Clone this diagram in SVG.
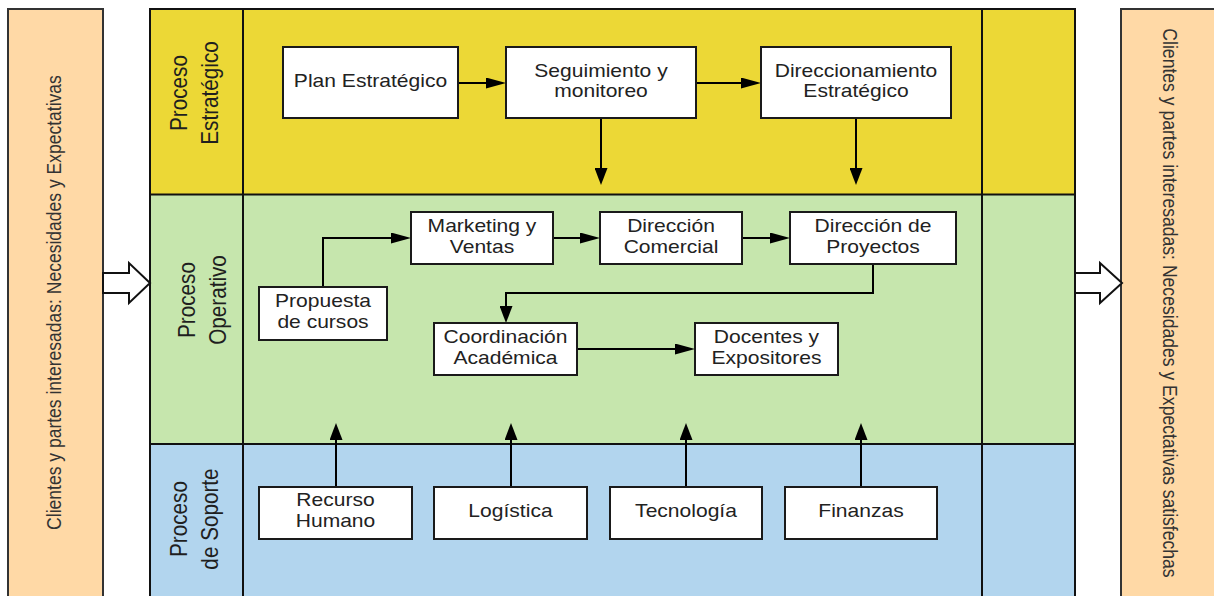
<svg xmlns="http://www.w3.org/2000/svg" width="1214" height="596" viewBox="0 0 1214 596">
<style>
.box{fill:#ffffff;stroke:#1a1a1a;stroke-width:2}
.bt{font-family:"Liberation Sans",Arial,sans-serif;font-size:18px;fill:#222;text-anchor:middle}
.lt{font-family:"Liberation Sans",Arial,sans-serif;font-size:23px;fill:#1f1f1f;text-anchor:middle}
.st{font-family:"Liberation Sans",Arial,sans-serif;font-size:21px;fill:#333;text-anchor:middle}
.ln{fill:none;stroke:#111;stroke-width:2}
.conn{fill:none;stroke:#000;stroke-width:2}
.hollow{fill:#ffffff;stroke:#111;stroke-width:2;stroke-linejoin:miter}
.side{fill:#ffd9a6;stroke:#333;stroke-width:2}
</style>
<defs>
<marker id="ah" markerUnits="userSpaceOnUse" viewBox="0 0 20 11" markerWidth="20" markerHeight="11" refX="0" refY="5.5" orient="auto"><path d="M0,0 L20,5.5 L0,11 Z" fill="#000"/></marker>
<marker id="av" markerUnits="userSpaceOnUse" viewBox="0 0 17 13" markerWidth="17" markerHeight="13" refX="0" refY="6.5" orient="auto"><path d="M0,0 L17,6.5 L0,13 Z" fill="#000"/></marker>
</defs>
<rect width="1214" height="596" fill="#ffffff"/>

<g id="panel-entrada">
<rect class="side" x="8" y="9" width="95" height="600"/>
<text class="st" transform="translate(61 302.5) rotate(-90) scale(0.835 1)" x="0" y="0">Clientes y partes interesadas: Necesidades y Expectativas</text>
</g>
<g id="panel-salida">
<rect class="side" x="1121" y="9" width="100" height="600"/>
<text class="st" transform="translate(1163 303) rotate(90) scale(0.838 1)" x="0" y="0">Clientes y partes interesadas: Necesidades y Expectativas satisfechas</text>
</g>

<g id="lane-estrategico">
<rect x="150" y="9" width="925" height="185.5" fill="#ecd836"/>
<text class="lt" transform="translate(0 93) rotate(-90) scale(0.9 1)"><tspan x="0" y="187">Proceso</tspan><tspan x="0" y="218">Estratégico</tspan></text>
</g>
<g id="lane-operativo">
<rect x="150" y="194.5" width="925" height="249.5" fill="#c6e6ad"/>
<text class="lt" transform="translate(0 300) rotate(-90) scale(0.9 1)"><tspan x="0" y="195">Proceso</tspan><tspan x="0" y="226">Operativo</tspan></text>
</g>
<g id="lane-soporte">
<rect x="150" y="444" width="925" height="160" fill="#b2d5ee"/>
<text class="lt" transform="translate(0 519) rotate(-90) scale(0.9 1)"><tspan x="0" y="187">Proceso</tspan><tspan x="0" y="218">de Soporte</tspan></text>
</g>
<g id="frame">
<path class="ln" d="M150,600 V9 H1075 V600 M150,194.5 H1075 M150,444 H1075 M243,9 V600 M982,9 V600"/>
</g>

<g id="flecha-entrada"><polygon class="hollow" points="103,273 129,273 129,263 150,283 129,303 129,293 103,293"/></g>
<g id="flecha-salida"><polygon class="hollow" points="1075,273 1100,273 1100,263 1122,283 1100,303 1100,293 1075,293"/></g>

<g id="connectors">
<path class="conn" d="M458,83 H486" marker-end="url(#ah)"/>
<path class="conn" d="M696,83 H741" marker-end="url(#ah)"/>
<path class="conn" d="M601,118 V168" marker-end="url(#av)"/>
<path class="conn" d="M856,118 V168" marker-end="url(#av)"/>
<path class="conn" d="M323,287 V238 H391" marker-end="url(#ah)"/>
<path class="conn" d="M553,238 H580" marker-end="url(#ah)"/>
<path class="conn" d="M742,238 H770" marker-end="url(#ah)"/>
<path class="conn" d="M873,264 V293 H506 V306" marker-end="url(#av)"/>
<path class="conn" d="M577,349 H675" marker-end="url(#ah)"/>
<path class="conn" d="M336,487 V440" marker-end="url(#av)"/>
<path class="conn" d="M511,487 V440" marker-end="url(#av)"/>
<path class="conn" d="M686,487 V440" marker-end="url(#av)"/>
<path class="conn" d="M861,487 V440" marker-end="url(#av)"/>
</g>

<g id="plan-estrategico">
<rect class="box" x="283" y="47" width="175" height="71"/>
<text class="bt" transform="matrix(1.17 0 0 1 370.5 0)"><tspan x="0" y="87.5">Plan Estratégico</tspan></text>
</g>
<g id="seguimiento">
<rect class="box" x="506" y="47" width="190" height="71"/>
<text class="bt" transform="matrix(1.17 0 0 1 601 0)"><tspan x="0" y="76.7">Seguimiento y</tspan><tspan x="0" y="97.3">monitoreo</tspan></text>
</g>
<g id="direccionamiento">
<rect class="box" x="761" y="47" width="190" height="71"/>
<text class="bt" transform="matrix(1.17 0 0 1 856 0)"><tspan x="0" y="76.7">Direccionamiento</tspan><tspan x="0" y="97.3">Estratégico</tspan></text>
</g>
<g id="marketing">
<rect class="box" x="411" y="212" width="142" height="52"/>
<text class="bt" transform="matrix(1.17 0 0 1 482 0)"><tspan x="0" y="232.3">Marketing y</tspan><tspan x="0" y="252.7">Ventas</tspan></text>
</g>
<g id="direccion-comercial">
<rect class="box" x="600" y="212" width="142" height="52"/>
<text class="bt" transform="matrix(1.17 0 0 1 671 0)"><tspan x="0" y="232.3">Dirección</tspan><tspan x="0" y="252.7">Comercial</tspan></text>
</g>
<g id="direccion-proyectos">
<rect class="box" x="790" y="212" width="166" height="52"/>
<text class="bt" transform="matrix(1.17 0 0 1 873 0)"><tspan x="0" y="232.3">Dirección de</tspan><tspan x="0" y="252.7">Proyectos</tspan></text>
</g>
<g id="propuesta">
<rect class="box" x="259" y="287" width="128" height="53"/>
<text class="bt" transform="matrix(1.17 0 0 1 323 0)"><tspan x="0" y="307.3">Propuesta</tspan><tspan x="0" y="328">de cursos</tspan></text>
</g>
<g id="coordinacion">
<rect class="box" x="434" y="323" width="143" height="52"/>
<text class="bt" transform="matrix(1.17 0 0 1 505.5 0)"><tspan x="0" y="343">Coordinación</tspan><tspan x="0" y="363.7">Académica</tspan></text>
</g>
<g id="docentes">
<rect class="box" x="695" y="323" width="143" height="52"/>
<text class="bt" transform="matrix(1.17 0 0 1 766.5 0)"><tspan x="0" y="343">Docentes y</tspan><tspan x="0" y="363.7">Expositores</tspan></text>
</g>
<g id="recurso-humano">
<rect class="box" x="259" y="487" width="153" height="52"/>
<text class="bt" transform="matrix(1.17 0 0 1 335.5 0)"><tspan x="0" y="506.5">Recurso</tspan><tspan x="0" y="527.3">Humano</tspan></text>
</g>
<g id="logistica">
<rect class="box" x="434" y="487" width="153" height="52"/>
<text class="bt" transform="matrix(1.17 0 0 1 510.5 0)"><tspan x="0" y="517.5">Logística</tspan></text>
</g>
<g id="tecnologia">
<rect class="box" x="610" y="487" width="152" height="52"/>
<text class="bt" transform="matrix(1.17 0 0 1 686 0)"><tspan x="0" y="517.5">Tecnología</tspan></text>
</g>
<g id="finanzas">
<rect class="box" x="785" y="487" width="152" height="52"/>
<text class="bt" transform="matrix(1.17 0 0 1 861 0)"><tspan x="0" y="517.5">Finanzas</tspan></text>
</g>
</svg>
